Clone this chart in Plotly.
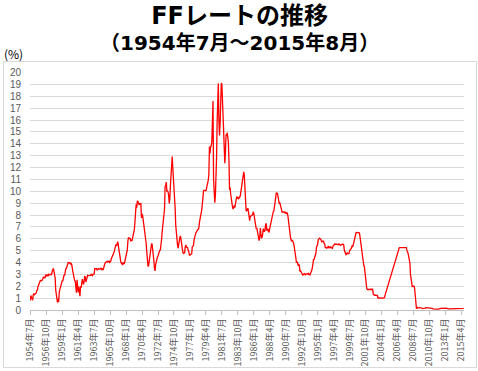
import plotly.graph_objects as go

W, H = 478, 371
ML, MR, MT, MB = 30, 14, 72, 61

title_main = "FFレートの推移"
title_sub = "（1954年7月～2015年8月）"
y_unit = "(%)"

start_year = 1954
start_month = 7

# Monthly effective federal funds rate (%), 1954-07 .. 2015-08, one year per row
ff_rate = [
    0.80, 1.22, 1.07, 0.85, 0.83, 1.28,
    1.39, 1.29, 1.35, 1.43, 1.43, 1.64, 1.68, 1.96, 2.18, 2.24, 2.35, 2.48,
    2.45, 2.50, 2.50, 2.62, 2.75, 2.71, 2.75, 2.73, 2.95, 2.96, 2.88, 2.94,
    2.84, 3.00, 2.96, 3.00, 3.00, 3.00, 2.99, 3.24, 3.47, 3.50, 3.28, 2.98,
    2.72, 1.67, 1.20, 1.26, 0.63, 0.93, 0.68, 1.53, 1.76, 1.80, 2.27, 2.42,
    2.48, 2.43, 2.80, 2.96, 2.90, 3.39, 3.47, 3.50, 3.76, 3.98, 4.00, 3.99,
    3.99, 3.97, 3.84, 3.92, 3.85, 3.32, 3.23, 2.98, 2.60, 2.47, 2.44, 1.98,
    1.45, 2.54, 2.02, 1.49, 1.98, 1.73, 1.17, 2.00, 1.88, 2.26, 2.61, 2.33,
    2.15, 2.37, 2.85, 2.78, 2.36, 2.68, 2.71, 2.93, 2.90, 2.90, 2.94, 2.93,
    2.92, 3.00, 2.98, 2.90, 3.00, 2.99, 3.02, 3.49, 3.48, 3.50, 3.48, 3.38,
    3.48, 3.48, 3.43, 3.47, 3.50, 3.50, 3.42, 3.50, 3.45, 3.36, 3.52, 3.85,
    3.90, 3.98, 4.04, 4.09, 4.10, 4.04, 4.09, 4.12, 4.01, 4.08, 4.10, 4.32,
    4.42, 4.60, 4.65, 4.67, 4.90, 5.17, 5.30, 5.53, 5.40, 5.53, 5.76, 5.40,
    4.94, 5.00, 4.53, 4.05, 3.94, 3.98, 3.79, 3.90, 3.99, 3.88, 4.13, 4.51,
    4.61, 4.71, 5.05, 5.76, 6.11, 6.07, 6.02, 6.03, 5.78, 5.91, 5.82, 6.02,
    6.30, 6.61, 6.79, 7.41, 8.67, 8.90, 8.61, 9.19, 9.15, 9.00, 8.85, 8.97,
    8.98, 8.98, 7.76, 8.10, 7.94, 7.60, 7.21, 6.61, 6.29, 6.20, 5.60, 4.90,
    4.14, 3.72, 3.71, 4.16, 4.63, 4.91, 5.31, 5.56, 5.55, 5.20, 4.91, 4.14,
    3.50, 3.29, 3.83, 4.17, 4.27, 4.46, 4.55, 4.80, 4.87, 5.04, 5.06, 5.33,
    5.94, 6.58, 7.09, 7.12, 7.84, 8.49, 10.40, 10.50, 10.78, 10.01, 10.03, 9.95,
    9.65, 8.97, 9.35, 10.51, 11.31, 11.93, 12.92, 12.01, 11.34, 10.06, 9.45, 8.53,
    7.13, 6.24, 5.54, 5.49, 5.22, 5.55, 6.10, 6.14, 6.24, 5.82, 5.22, 5.20,
    4.87, 4.77, 4.84, 4.82, 5.29, 5.48, 5.31, 5.29, 5.25, 5.02, 4.95, 4.65,
    4.61, 4.68, 4.69, 4.73, 5.35, 5.39, 5.42, 5.90, 6.14, 6.47, 6.51, 6.56,
    6.70, 6.78, 6.79, 6.89, 7.36, 7.60, 7.81, 8.04, 8.45, 8.96, 9.76, 10.03,
    10.07, 10.06, 10.09, 10.01, 10.24, 10.29, 10.47, 10.94, 11.43, 13.77, 13.18, 13.78,
    13.82, 14.13, 17.19, 17.61, 10.98, 9.47, 9.03, 9.61, 10.87, 12.81, 15.85, 18.90,
    19.08, 15.93, 14.70, 15.72, 18.52, 19.10, 19.04, 17.82, 15.87, 15.08, 13.31, 12.37,
    13.22, 14.78, 14.68, 14.94, 14.45, 14.15, 12.59, 10.12, 10.31, 9.71, 9.20, 8.95,
    8.68, 8.51, 8.77, 8.80, 8.63, 8.98, 9.37, 9.56, 9.45, 9.48, 9.34, 9.47,
    9.56, 9.59, 9.91, 10.29, 10.32, 11.06, 11.23, 11.64, 11.30, 9.99, 9.43, 8.38,
    8.35, 8.50, 8.58, 8.27, 7.97, 7.53, 7.88, 7.90, 7.92, 7.99, 8.05, 8.27,
    8.14, 7.86, 7.48, 6.99, 6.85, 6.92, 6.56, 6.17, 5.89, 5.85, 6.04, 6.91,
    6.43, 6.10, 6.13, 6.37, 6.85, 6.73, 6.58, 6.73, 7.22, 7.29, 6.69, 6.77,
    6.83, 6.58, 6.58, 6.87, 7.09, 7.51, 7.75, 8.01, 8.19, 8.30, 8.35, 8.76,
    9.12, 9.36, 9.85, 9.84, 9.81, 9.53, 9.24, 8.99, 9.02, 8.84, 8.55, 8.45,
    8.23, 8.24, 8.28, 8.26, 8.18, 8.29, 8.15, 8.13, 8.20, 8.11, 7.81, 7.31,
    6.91, 6.25, 6.12, 5.91, 5.78, 5.90, 5.82, 5.66, 5.45, 5.21, 4.81, 4.43,
    4.03, 4.06, 3.98, 3.73, 3.82, 3.76, 3.25, 3.30, 3.22, 3.10, 3.09, 2.92,
    3.02, 3.03, 3.07, 2.96, 3.00, 3.04, 3.06, 3.03, 3.09, 2.99, 3.02, 2.96,
    3.05, 3.25, 3.34, 3.56, 4.01, 4.25, 4.26, 4.47, 4.73, 4.76, 5.29, 5.45,
    5.53, 5.92, 5.98, 6.05, 6.01, 6.00, 5.85, 5.74, 5.80, 5.76, 5.80, 5.60,
    5.56, 5.22, 5.31, 5.22, 5.24, 5.27, 5.40, 5.22, 5.30, 5.24, 5.31, 5.29,
    5.25, 5.19, 5.39, 5.51, 5.50, 5.56, 5.52, 5.54, 5.54, 5.50, 5.52, 5.50,
    5.56, 5.51, 5.49, 5.45, 5.49, 5.56, 5.54, 5.55, 5.51, 5.07, 4.83, 4.68,
    4.63, 4.76, 4.81, 4.74, 4.74, 4.76, 4.99, 5.07, 5.22, 5.20, 5.42, 5.30,
    5.45, 5.73, 5.85, 6.02, 6.27, 6.53, 6.54, 6.50, 6.52, 6.51, 6.51, 6.40,
    5.98, 5.49, 5.31, 4.80, 4.21, 3.97, 3.77, 3.65, 3.07, 2.49, 2.09, 1.82,
    1.73, 1.74, 1.73, 1.75, 1.75, 1.75, 1.73, 1.74, 1.75, 1.75, 1.34, 1.24,
    1.24, 1.26, 1.25, 1.26, 1.26, 1.22, 1.01, 1.03, 1.01, 1.01, 1.00, 0.98,
    1.00, 1.01, 1.00, 1.00, 1.00, 1.03, 1.26, 1.43, 1.61, 1.76, 1.93, 2.16,
    2.28, 2.50, 2.63, 2.79, 3.00, 3.04, 3.26, 3.50, 3.62, 3.78, 4.00, 4.16,
    4.29, 4.49, 4.59, 4.79, 4.94, 4.99, 5.24, 5.25, 5.25, 5.25, 5.25, 5.24,
    5.25, 5.26, 5.26, 5.25, 5.25, 5.25, 5.26, 5.02, 4.94, 4.76, 4.49, 4.24,
    3.94, 2.98, 2.61, 2.28, 1.98, 2.00, 2.01, 2.00, 1.81, 0.97, 0.39, 0.16,
    0.15, 0.22, 0.18, 0.15, 0.18, 0.21, 0.16, 0.16, 0.15, 0.12, 0.12, 0.12,
    0.11, 0.13, 0.16, 0.20, 0.20, 0.18, 0.18, 0.19, 0.19, 0.19, 0.19, 0.18,
    0.17, 0.16, 0.14, 0.10, 0.09, 0.09, 0.07, 0.10, 0.08, 0.07, 0.08, 0.07,
    0.08, 0.10, 0.13, 0.14, 0.16, 0.16, 0.16, 0.13, 0.14, 0.16, 0.16, 0.16,
    0.14, 0.15, 0.14, 0.15, 0.11, 0.09, 0.09, 0.08, 0.08, 0.09, 0.08, 0.09,
    0.07, 0.07, 0.08, 0.09, 0.09, 0.10, 0.09, 0.09, 0.09, 0.09, 0.09, 0.12,
    0.11, 0.11, 0.11, 0.12, 0.12, 0.13, 0.13, 0.14,
]

# category labels, one per month
months = []
yy, mm = start_year, start_month
for _ in ff_rate:
    months.append(f"{yy}年{mm}月")
    mm += 1
    if mm > 12:
        mm = 1
        yy += 1

tick_step = 27
tick_labels = months[::tick_step]
y_ticks = list(range(0, 21))

FONT = "Noto Sans CJK JP"
NUMFONT = "Liberation Sans"
TITLEFONT = "DejaVu Sans, Noto Sans CJK JP"
GREY = "#595959"

fig = go.Figure()
fig.add_trace(go.Scatter(
    x=months, y=ff_rate, mode="lines",
    line=dict(color="#ff0000", width=1.3),
    hoverinfo="x+y",
))

pw = W - ML - MR
ph = H - MT - MB

def px_x(p):
    return (p - ML) / pw

def px_y(p):
    return (H - MB - p) / ph

title_text = (f"<b><span style='font-size:24px'>{title_main}</span>"
              f"<br>{title_sub}</b>")

fig.update_layout(
    width=W, height=H,
    margin=dict(l=ML, r=MR, t=MT, b=MB, autoexpand=False),
    paper_bgcolor="white", plot_bgcolor="white",
    showlegend=False,
    font=dict(family=FONT, color=GREY),
    xaxis=dict(
        type="category",
        tickmode="array", tickvals=tick_labels, ticktext=tick_labels,
        tickangle=-90,
        tickfont=dict(size=9, color=GREY, family=FONT),
        showgrid=False,
        showline=True, linecolor="#bfbfbf", linewidth=1,
        ticks="outside", ticklen=4, tickcolor="#bfbfbf",
        range=[-0.5, len(months) - 0.5],
        zeroline=False, automargin=False,
    ),
    yaxis=dict(
        range=[0, 20.05],
        tickmode="array", tickvals=y_ticks,
        tickfont=dict(size=10, color=GREY, family=NUMFONT),
        showgrid=True, gridcolor="#d9d9d9", gridwidth=1,
        zeroline=False, showline=False,
        ticklabelstandoff=8, automargin=False,
    ),
    shapes=[dict(
        type="rect", xref="paper", yref="paper",
        x0=px_x(3.5), x1=px_x(476.5), y0=px_y(367.5), y1=px_y(61.5),
        line=dict(color="#d9d9d9", width=1), fillcolor="rgba(0,0,0,0)",
        layer="below",
    )],
    annotations=[
        dict(text=title_text, xref="paper", yref="paper",
             x=px_x(239), y=px_y(28), xanchor="center", yanchor="middle",
             showarrow=False, align="center",
             font=dict(size=20, color="black", family=TITLEFONT)),
        dict(text=y_unit, xref="paper", yref="paper",
             x=px_x(2), y=px_y(53), xanchor="left", yanchor="middle",
             showarrow=False, font=dict(size=12, color="black", family=FONT)),
    ],
)

fig.write_html(
    "out.html",
    config={"displayModeBar": False},
    post_script="document.body.style.margin='0';document.body.style.overflow='hidden';",
)
